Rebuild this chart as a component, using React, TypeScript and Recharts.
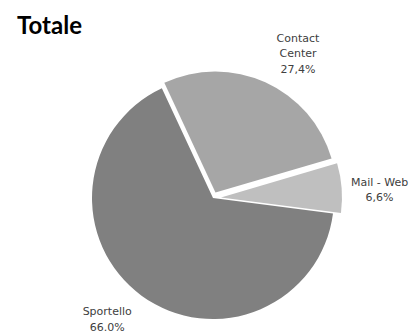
import { Cell, Pie, PieChart } from 'recharts';

const categories = ['Contact Center', 'Mail - Web', 'Sportello'];
const labelLines = [['Contact', 'Center'], ['Mail - Web'], ['Sportello']];
const values = [27.4, 6.6, 66.0];
const percentLabels = ['27,4%', '6,6%', '66.0%'];

const colors = ['#a6a6a6', '#bfbfbf', '#808080'];
const explode = [6, 8, 0];

const W = 417;
const H = 333;
const CX = 213;
const CY = 198;
const R = 121;
const START = 115;
const RAD = Math.PI / 180;
const BOX_W = 58;
const LINE_H = 15.5;

const data = categories.map((name, i) => ({ name, value: values[i] }));

// mid angle of every slice, so exploded slices can be pushed outwards
const total = values.reduce((a, b) => a + b, 0);
const mids: number[] = [];
let acc = START;
values.forEach((v) => {
  const span = (v / total) * 360;
  mids.push(acc - span / 2);
  acc -= span;
});

function renderLabel(p: any) {
  const { cx, cy, midAngle, outerRadius, index } = p;
  const cos = Math.cos(midAngle * RAD);
  const sin = Math.sin(midAngle * RAD);
  const r = outerRadius + 9;
  const ax = cx + r * cos;
  const ay = cy - r * sin;
  const lines = [...labelLines[index], percentLabels[index]];
  const h = lines.length * LINE_H;
  const bx = ax + (Math.abs(cos) > 0.2 ? Math.sign(cos) * (BOX_W / 2) : 0);
  let by = ay + 3 + (Math.abs(sin) > 0.2 ? -Math.sign(sin) * (h / 2) : 0);
  // keep the last line inside the picture
  by = Math.min(by, H - 6 - h / 2 + LINE_H / 2);
  return (
    <text
      x={bx}
      y={by}
      textAnchor="middle"
      fill="#404040"
      fontSize={11}
      fontFamily="DejaVu Sans, sans-serif"
    >
      {lines.map((l, k) => (
        <tspan key={k} x={bx} y={by - h / 2 + LINE_H * (k + 0.5)} dominantBaseline="central">
          {l}
        </tspan>
      ))}
    </text>
  );
}

export default function App() {
  return (
    <div style={{ position: 'absolute', left: 0, top: 0, width: W, height: H, background: '#fff' }}>
      <div
        style={{
          position: 'absolute',
          left: 17,
          top: 11,
          fontFamily: 'Lato, sans-serif',
          fontWeight: 700,
          fontSize: 24,
          lineHeight: 1.2,
          color: '#000',
        }}
      >
        Totale
      </div>
      <PieChart width={W} height={H} margin={{ top: 0, right: 0, bottom: 0, left: 0 }}>
        {data.map((_, i) => (
          <Pie
            key={i}
            data={data}
            dataKey="value"
            nameKey="name"
            cx={CX + explode[i] * Math.cos(mids[i] * RAD)}
            cy={CY - explode[i] * Math.sin(mids[i] * RAD)}
            outerRadius={R}
            startAngle={START}
            endAngle={START - 360}
            stroke="none"
            labelLine={false}
            label={(p: any) => (p.index === i ? renderLabel(p) : null)}
            isAnimationActive={false}
          >
            {data.map((_, j) => (
              <Cell key={j} fill={j === i ? colors[j] : 'transparent'} />
            ))}
          </Pie>
        ))}
      </PieChart>
    </div>
  );
}
